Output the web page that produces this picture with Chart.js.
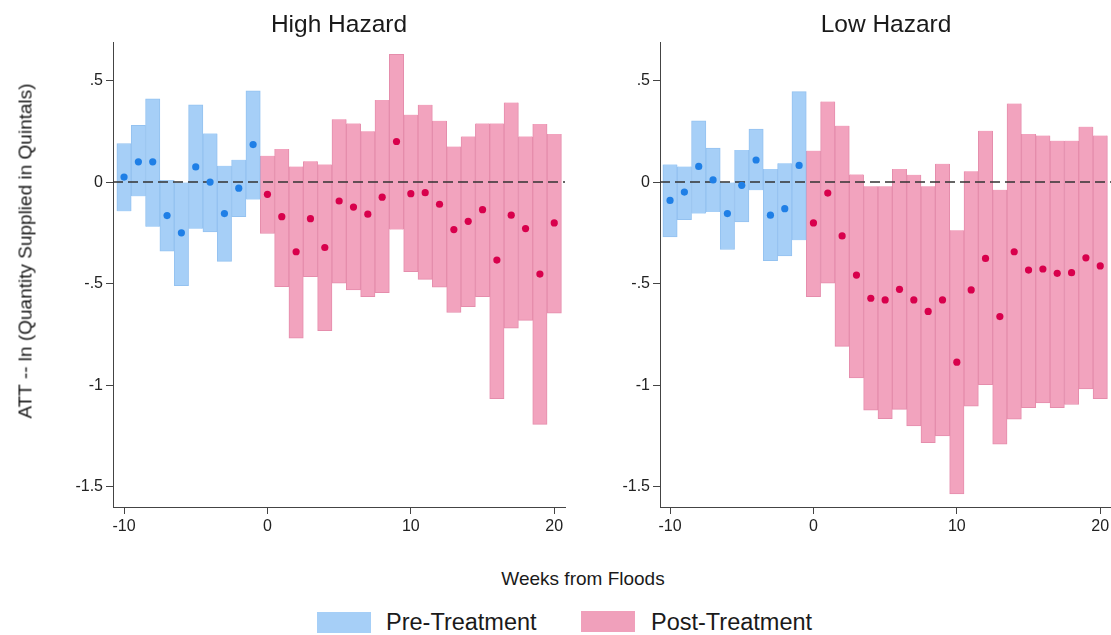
<!DOCTYPE html>
<html>
<head>
<meta charset="utf-8">
<script src="https://cdn.jsdelivr.net/npm/chart.js@4.4.1/dist/chart.umd.min.js"></script>
<style>
  html, body { margin: 0; padding: 0; background: #fff; overflow: hidden; }
  body { width: 1111px; height: 635px; position: relative; font-family: "Liberation Sans", Arial, Helvetica, sans-serif; color: #1a1a1a; }
  canvas { position: absolute; top: 0; }
  .txt { position: absolute; white-space: nowrap; line-height: 1; }
  .box { position: absolute; width: 54px; height: 21px; }
</style>
</head>
<body>
<canvas id="high" width="575" height="545" style="left:0px"></canvas>
<canvas id="low" width="545" height="545" style="left:570px"></canvas>

<div class="txt" id="t-high" style="font-size:24.5px; left:339px; top:24px; transform:translate(-50%,-50%)">High Hazard</div>
<div class="txt" id="t-low" style="font-size:24.5px; left:886px; top:24px; transform:translate(-50%,-50%)">Low Hazard</div>
<div class="txt" style="font-size:19px; left:25px; top:251px; transform:translate(-50%,-50%) rotate(-90deg)">ATT -- ln (Quantity Supplied in Quintals)</div>
<div class="txt" style="font-size:19px; left:583px; top:578px; transform:translate(-50%,-50%)">Weeks from Floods</div>

<div class="box" style="left:317px; top:612px; background:#a6cff7"></div>
<div class="txt" style="font-size:23.5px; left:386px; top:623px; transform:translateY(-50%)">Pre-Treatment</div>
<div class="box" style="left:581px; top:611px; background:#f0a0bb"></div>
<div class="txt" style="font-size:23.5px; left:651px; top:623px; transform:translateY(-50%)">Post-Treatment</div>

<script>
// weeks relative to the floods
const preWeeks = [-10, -9, -8, -7, -6, -5, -4, -3, -2, -1];
const postWeeks = [0, 1, 2, 3, 4, 5, 6, 7, 8, 9, 10, 11, 12, 13, 14, 15, 16, 17, 18, 19, 20];

// High Hazard
const hhPreEst = [0.025, 0.10, 0.10, -0.165, -0.25, 0.075, 0.0, -0.155, -0.03, 0.185];
const hhPreLo = [-0.144, -0.07, -0.22, -0.34, -0.51, -0.23, -0.245, -0.39, -0.17, -0.086];
const hhPreHi = [0.19, 0.28, 0.41, 0.01, 0.0, 0.38, 0.24, 0.08, 0.11, 0.45];
const hhPostEst = [-0.06, -0.17, -0.343, -0.18, -0.322, -0.093, -0.123, -0.158, -0.074, 0.2, -0.057,
                   -0.052, -0.109, -0.234, -0.193, -0.136, -0.384, -0.163, -0.229, -0.453, -0.201];
const hhPostLo = [-0.253, -0.515, -0.768, -0.466, -0.732, -0.498, -0.531, -0.564, -0.544, -0.234, -0.441,
                  -0.479, -0.518, -0.642, -0.613, -0.564, -1.067, -0.719, -0.681, -1.193, -0.645];
const hhPostHi = [0.13, 0.163, 0.077, 0.103, 0.087, 0.31, 0.289, 0.25, 0.404, 0.629, 0.332,
                  0.381, 0.302, 0.175, 0.225, 0.289, 0.289, 0.392, 0.225, 0.286, 0.237];

// Low Hazard
const lhPreEst = [-0.09, -0.049, 0.077, 0.011, -0.155, -0.016, 0.109, -0.163, -0.131, 0.082];
const lhPreLo = [-0.27, -0.185, -0.155, -0.147, -0.332, -0.196, -0.04, -0.387, -0.364, -0.286];
const lhPreHi = [0.087, 0.077, 0.302, 0.167, 0.0, 0.158, 0.261, 0.065, 0.093, 0.446];
const lhPostEst = [-0.201, -0.054, -0.265, -0.458, -0.572, -0.58, -0.528, -0.58, -0.637, -0.58, -0.887,
                   -0.531, -0.376, -0.662, -0.343, -0.433, -0.428, -0.449, -0.446, -0.373, -0.413];
const lhPostLo = [-0.564, -0.498, -0.809, -0.964, -1.123, -1.165, -1.119, -1.201, -1.283, -1.25, -1.536,
                  -1.103, -0.997, -1.291, -1.168, -1.111, -1.087, -1.111, -1.095, -1.018, -1.067];
const lhPostHi = [0.155, 0.397, 0.278, 0.038, -0.021, -0.021, 0.065, 0.036, -0.021, 0.09, -0.237,
                  0.054, 0.253, -0.038, 0.387, 0.237, 0.229, 0.204, 0.204, 0.273, 0.229];

// axis ticks
const xTicks = [-10, 0, 10, 20];
const yTicks = [0.5, 0, -0.5, -1, -1.5];
const yTickLabels = ['.5', '0', '-.5', '-1', '-1.5'];

const blueBar = '#a6cff7';
const blueEdge = '#94c2f0';
const blueDot = '#1f7fe6';
const pinkBar = '#f2a3be';
const pinkEdge = '#e58dac';
const pinkDot = '#d8004c';
const axisColor = '#444';

// dashed line at zero, drawn over the bars but under the dots
const zeroLine = {
    id: 'zeroLine',
    beforeDatasetsDraw(chart) { chart.$zeroDone = false; },
    beforeDatasetDraw(chart, args) {
        if (args.meta.type !== 'scatter' || chart.$zeroDone) return;
        chart.$zeroDone = true;
        const c = chart.ctx, a = chart.chartArea;
        const y = chart.scales.y.getPixelForValue(0);
        c.save();
        c.strokeStyle = '#333';
        c.lineWidth = 1.5;
        c.setLineDash([10, 5]);
        c.beginPath();
        c.moveTo(a.left, y);
        c.lineTo(a.right, y);
        c.stroke();
        c.restore();
    }
};

function bars(weeks, lo, hi) {
    return weeks.map((w, i) => ({ x: w, y: [lo[i], hi[i]] }));
}
function dots(weeks, est) {
    return weeks.map((w, i) => ({ x: w, y: est[i] }));
}

function makePanel(id, d, yWidth, padRight, xMin) {
    return new Chart(document.getElementById(id), {
        type: 'bar',
        data: {
            datasets: [
                { type: 'bar', data: bars(preWeeks, d.preLo, d.preHi), backgroundColor: blueBar,
                  borderColor: blueEdge, borderWidth: 1, grouped: false, barPercentage: 1, categoryPercentage: 1, order: 2 },
                { type: 'bar', data: bars(postWeeks, d.postLo, d.postHi), backgroundColor: pinkBar,
                  borderColor: pinkEdge, borderWidth: 1, grouped: false, barPercentage: 1, categoryPercentage: 1, order: 2 },
                { type: 'scatter', data: dots(preWeeks, d.preEst), backgroundColor: blueDot,
                  borderWidth: 0, pointRadius: 3.6, order: 1 },
                { type: 'scatter', data: dots(postWeeks, d.postEst), backgroundColor: pinkDot,
                  borderWidth: 0, pointRadius: 3.6, order: 1 }
            ]
        },
        options: {
            responsive: false,
            animation: false,
            layout: { padding: { top: 42, right: padRight, left: 0, bottom: 0 } },
            plugins: { legend: { display: false }, tooltip: { enabled: false } },
            scales: {
                x: {
                    type: 'linear', min: xMin, max: 20.75, offset: false,
                    afterFit: s => { s.height = 38; },
                    afterBuildTicks: s => { s.ticks = xTicks.map(v => ({ value: v })); },
                    grid: { offset: false, drawOnChartArea: false, drawTicks: true, tickLength: 7, color: axisColor },
                    border: { display: true, color: axisColor, width: 1 },
                    ticks: { padding: 3, color: '#222', font: { family: 'Liberation Sans', size: 16 }, maxRotation: 0 }
                },
                y: {
                    type: 'linear', min: -1.6, max: 0.69,
                    afterFit: s => { s.width = yWidth; },
                    afterBuildTicks: s => { s.ticks = yTicks.map(v => ({ value: v })); },
                    grid: { drawOnChartArea: false, drawTicks: true, tickLength: 7, color: axisColor },
                    border: { display: true, color: axisColor, width: 1 },
                    ticks: {
                        padding: 3, color: '#222', font: { family: 'Liberation Sans', size: 16 },
                        callback: v => yTickLabels[yTicks.indexOf(v)]
                    }
                }
            }
        },
        plugins: [zeroLine]
    });
}

makePanel('high', { preEst: hhPreEst, preLo: hhPreLo, preHi: hhPreHi,
                    postEst: hhPostEst, postLo: hhPostLo, postHi: hhPostHi }, 113, 10, -10.77);
makePanel('low', { preEst: lhPreEst, preLo: lhPreLo, preHi: lhPreHi,
                   postEst: lhPostEst, postLo: lhPostLo, postHi: lhPostHi }, 90, 4, -10.7);
</script>
</body>
</html>
